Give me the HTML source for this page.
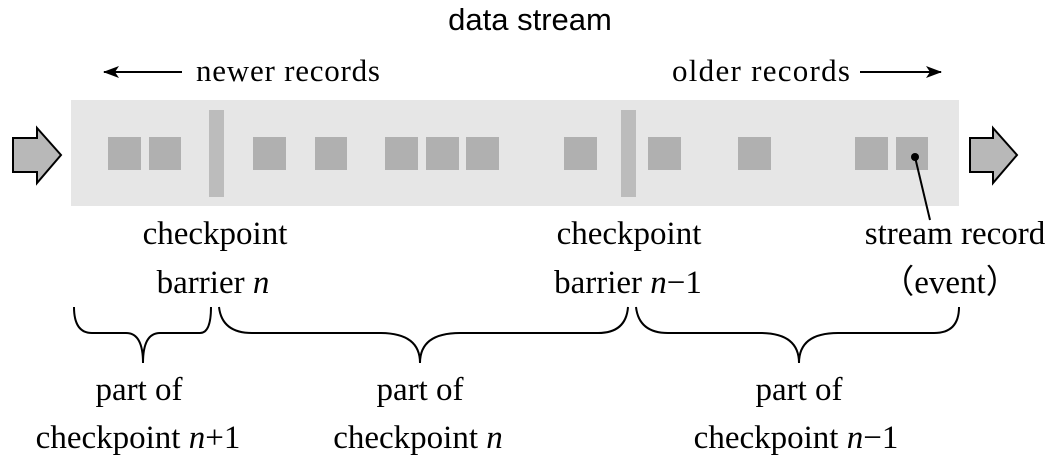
<!DOCTYPE html>
<html><head><meta charset="utf-8"><style>body{margin:0;background:#fff}svg{display:block}</style></head><body>
<svg width="1060" height="463" viewBox="0 0 1060 463" xmlns="http://www.w3.org/2000/svg">
<defs><marker id="ah" markerWidth="16" markerHeight="12" refX="15" refY="6" orient="auto" markerUnits="userSpaceOnUse"><path d="M0,0 L16,6 L0,12 L4,6 Z" fill="#000"/></marker></defs>
<text x="530" y="30" font-family="Liberation Sans, sans-serif" font-size="31" text-anchor="middle">data stream</text>
<line x1="182" y1="72" x2="104" y2="72" stroke="#000" stroke-width="2" marker-end="url(#ah)"/>
<text x="196" y="81" font-family="Liberation Serif, serif" font-size="31" textLength="184">newer records</text>
<text x="672" y="81" font-family="Liberation Serif, serif" font-size="31" textLength="178">older records</text>
<line x1="860" y1="72" x2="941" y2="72" stroke="#000" stroke-width="2" marker-end="url(#ah)"/>
<rect x="71" y="100" width="888" height="106" fill="#e6e6e6"/>
<g fill="#b0b0b0">
<rect x="108" y="137" width="33" height="33"/><rect x="149" y="137" width="32" height="33"/>
<rect x="253" y="137" width="33" height="33"/><rect x="315" y="137" width="32" height="33"/>
<rect x="385" y="137" width="33" height="33"/><rect x="426" y="137" width="33" height="33"/><rect x="466" y="137" width="33" height="33"/>
<rect x="564" y="137" width="33" height="33"/><rect x="648" y="137" width="33" height="33"/>
<rect x="738" y="137" width="33" height="33"/><rect x="855" y="137" width="33" height="33"/><rect x="896" y="137" width="32" height="33"/>
</g>
<rect x="209" y="110" width="15" height="87" fill="#bcbcbc"/>
<rect x="621" y="110" width="15" height="87" fill="#bcbcbc"/>
<path d="M13,138 H37 V128 L61,155 L37,183 V172 H13 Z" fill="#b8b8b8" stroke="#000" stroke-width="2"/>
<path d="M970,138 H993 V128 L1017,155 L993,183 V172 H970 Z" fill="#b8b8b8" stroke="#000" stroke-width="2"/>
<circle cx="915" cy="157" r="4" fill="#000"/>
<line x1="915" y1="157" x2="930" y2="220" stroke="#000" stroke-width="2"/>
<g font-family="Liberation Serif, serif" font-size="33" text-anchor="middle">
<text x="215" y="244">checkpoint</text>
<text x="213" y="293">barrier <tspan font-style="italic">n</tspan></text>
<text x="629" y="244">checkpoint</text>
<text x="628" y="293">barrier <tspan font-style="italic">n</tspan>−1</text>
<text x="955" y="244">stream record</text>
<text x="950" y="293">（event）</text>
<text x="139" y="400">part of</text>
<text x="138" y="448">checkpoint <tspan font-style="italic">n</tspan>+1</text>
<text x="420" y="400">part of</text>
<text x="418" y="448">checkpoint <tspan font-style="italic">n</tspan></text>
<text x="799" y="400">part of</text>
<text x="796" y="448">checkpoint <tspan font-style="italic">n</tspan>−1</text>
</g>
<g fill="none" stroke="#000" stroke-width="2">
<path d="M74,307 Q74,333 92,333 H126 Q143,333 143,363 Q143,333 160,333 H200 Q211,333 211,307"/>
<path d="M219,307 Q222,333 252,333 H380 Q420,333 420,363 Q420,333 460,333 H598 Q626,333 628,307"/>
<path d="M636,307 Q639,333 668,333 H760 Q799,333 799,363 Q799,333 838,333 H934 Q959,333 959,307"/>
</g>
</svg>
</body></html>
